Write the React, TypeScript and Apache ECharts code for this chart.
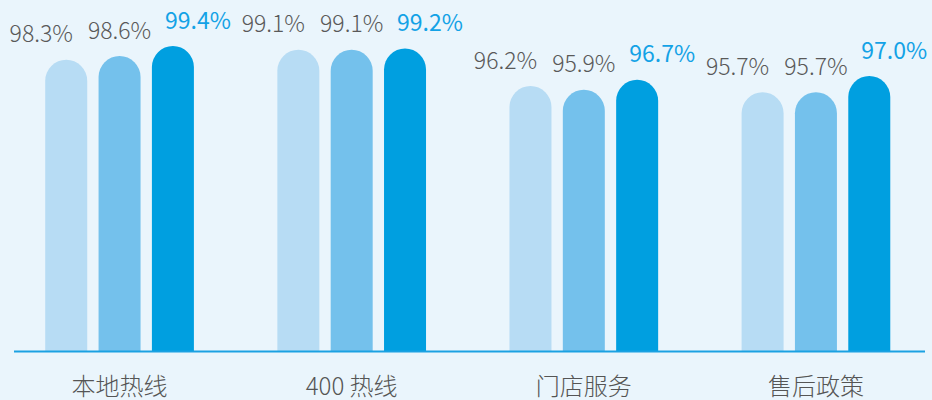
import React, { useEffect, useRef } from "react";
import * as echarts from "echarts";

const categories = ["本地热线", "400 热线", "门店服务", "售后政策"];
const seriesA = [98.3, 99.1, 96.2, 95.7];
const seriesB = [98.6, 99.1, 95.9, 95.7];
const seriesC = [99.4, 99.2, 96.7, 97.0];
const yMin = 75;
const yMax = 100;

const FONT = '"Noto Sans CJK SC", "Noto Sans", sans-serif';

export default function App() {
  const ref = useRef<HTMLDivElement>(null);
  useEffect(() => {
    if (!ref.current) return;
    const chart = echarts.init(ref.current, null, { renderer: "svg" });
    const mkLabel = (color: string, dx: number, weight: any) => ({
      show: true,
      position: "top",
      distance: 16,
      offset: [dx, 0],
      color,
      fontSize: 23,
      fontFamily: FONT,
      fontWeight: weight,
      formatter: (p: any) => Number(p.value).toFixed(1) + "%",
    });
    const mkSeries = (name: string, data: number[], color: string, label: any) => ({
      name,
      type: "bar",
      data,
      barWidth: 42,
      barGap: "27%",
      itemStyle: { color, borderRadius: [21, 21, 0, 0] },
      label,
    });
    chart.setOption({
      animation: false,
      backgroundColor: "#EAF5FC",
      grid: { left: 3.5, width: 932, top: 38.5, bottom: 49, containLabel: false },
      xAxis: {
        type: "category",
        data: categories,
        axisLine: { show: false },
        axisTick: { show: false },
        axisLabel: {
          margin: 21,
          fontSize: 24,
          color: "#555555",
          fontFamily: FONT,
          fontWeight: 300,
        },
      },
      yAxis: {
        type: "value",
        min: yMin,
        max: yMax,
        show: false,
        splitLine: { show: false },
      },
      series: [
        mkSeries("A", seriesA, "#B7DCF4", mkLabel("#595959", -25, 300)),
        mkSeries("B", seriesB, "#74C1EC", mkLabel("#595959", 0, 300)),
        mkSeries("C", seriesC, "#009FE0", mkLabel("#13A2E6", 25, "normal")),
      ],
      graphic: [
        {
          type: "line",
          shape: { x1: 14, y1: 351.6, x2: 925, y2: 351.6 },
          style: { stroke: "#1BA1E2", lineWidth: 2 },
          z: 10,
        },
      ],
    });
    return () => chart.dispose();
  }, []);
  return (
    <div
      ref={ref}
      style={{ position: "fixed", left: 0, top: 0, width: 932, height: 400 }}
    />
  );
}
